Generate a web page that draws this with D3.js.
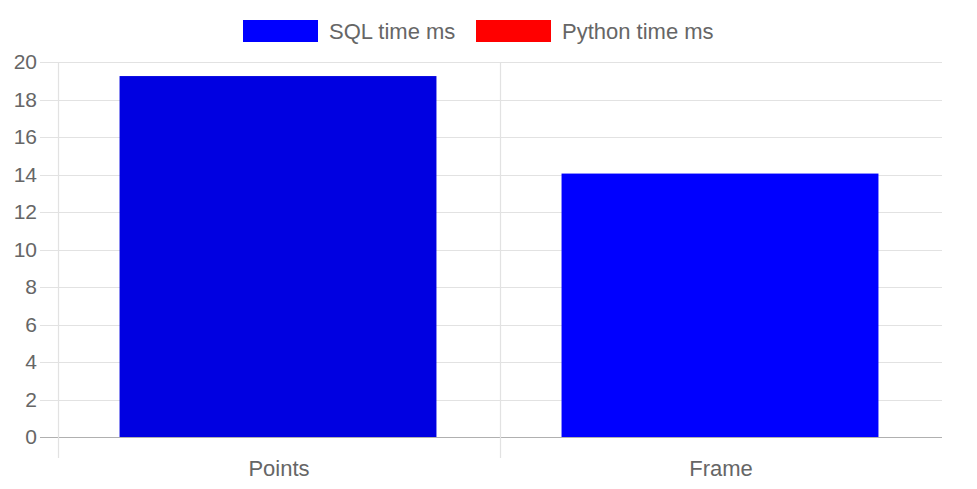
<!DOCTYPE html>
<html>
<head>
<meta charset="utf-8">
<script src="https://cdn.jsdelivr.net/npm/d3@7"></script>
<style>
  body { margin: 0; background: #fff; }
  svg text { font-family: "Liberation Sans", Arial, sans-serif; fill: #666; }
</style>
</head>
<body>
<svg id="chart" width="977" height="489"></svg>
<script>
const categories = ["Points", "Frame"];
const sqlTimes = [19.25, 14.05];
const pythonTimes = [0, 0];
const seriesNames = ["SQL time ms", "Python time ms"];
const seriesColors = ["#0000ff", "#ff0000"];
const yTicks = [0, 2, 4, 6, 8, 10, 12, 14, 16, 18, 20];

const svg = d3.select("#chart");
const margin = { left: 58, right: 35, top: 62, bottom: 52 };
const width = 977, height = 489;

const x = d3.scaleBand()
  .domain(categories)
  .range([margin.left, width - margin.right]);

const y = d3.scaleLinear()
  .domain([0, 20])
  .range([height - margin.bottom, margin.top]);

// horizontal grid
svg.append("g")
  .selectAll("line")
  .data(yTicks)
  .join("line")
  .attr("x1", margin.left - 18)
  .attr("x2", width - margin.right)
  .attr("y1", (d) => Math.round(y(d)) + 0.5)
  .attr("y2", (d) => Math.round(y(d)) + 0.5)
  .attr("stroke", (d) => (d === 0 ? "#b0b0b0" : "#e2e2e2"))
  .attr("stroke-width", 1.2);

// vertical grid (one per category start, no right border)
svg.append("g")
  .selectAll("line")
  .data(categories)
  .join("line")
  .attr("x1", (d) => Math.round(x(d)) + 0.5)
  .attr("x2", (d) => Math.round(x(d)) + 0.5)
  .attr("y1", margin.top)
  .attr("y2", height - margin.bottom + 21)
  .attr("stroke", "#e2e2e2")
  .attr("stroke-width", 1.2);

// y labels
svg.append("g")
  .selectAll("text")
  .data(yTicks)
  .join("text")
  .attr("x", margin.left - 21)
  .attr("y", (d) => y(d))
  .attr("dy", "0.35em")
  .attr("text-anchor", "end")
  .attr("font-size", "21px")
  .text((d) => d);

// x labels
svg.append("g")
  .selectAll("text")
  .data(categories)
  .join("text")
  .attr("x", (d) => x(d) + x.bandwidth() / 2)
  .attr("y", height - margin.bottom + 39)
  .attr("text-anchor", "middle")
  .attr("font-size", "22px")
  .text((d) => d);

// bars
const barW = x.bandwidth() * 0.717;
const barColors = ["#0000e1", "#0000ff"];
svg.append("g")
  .selectAll("rect")
  .data(sqlTimes)
  .join("rect")
  .attr("x", (d, i) => x(categories[i]) + (x.bandwidth() - barW) / 2 - 1)
  .attr("y", (d) => y(d))
  .attr("width", barW)
  .attr("height", (d) => y(0) - y(d))
  .attr("fill", (d, i) => barColors[i]);

// legend
const legendX = [243, 476];
const legend = svg.append("g")
  .selectAll("g")
  .data(seriesNames)
  .join("g")
  .attr("transform", (d, i) => `translate(${legendX[i]},20)`);
legend.append("rect")
  .attr("width", 75)
  .attr("height", 22)
  .attr("fill", (d, i) => seriesColors[i]);
legend.append("text")
  .attr("x", 86)
  .attr("y", 11)
  .attr("dy", "0.35em")
  .attr("font-size", "22px")
  .text((d) => d);
</script>
</body>
</html>
